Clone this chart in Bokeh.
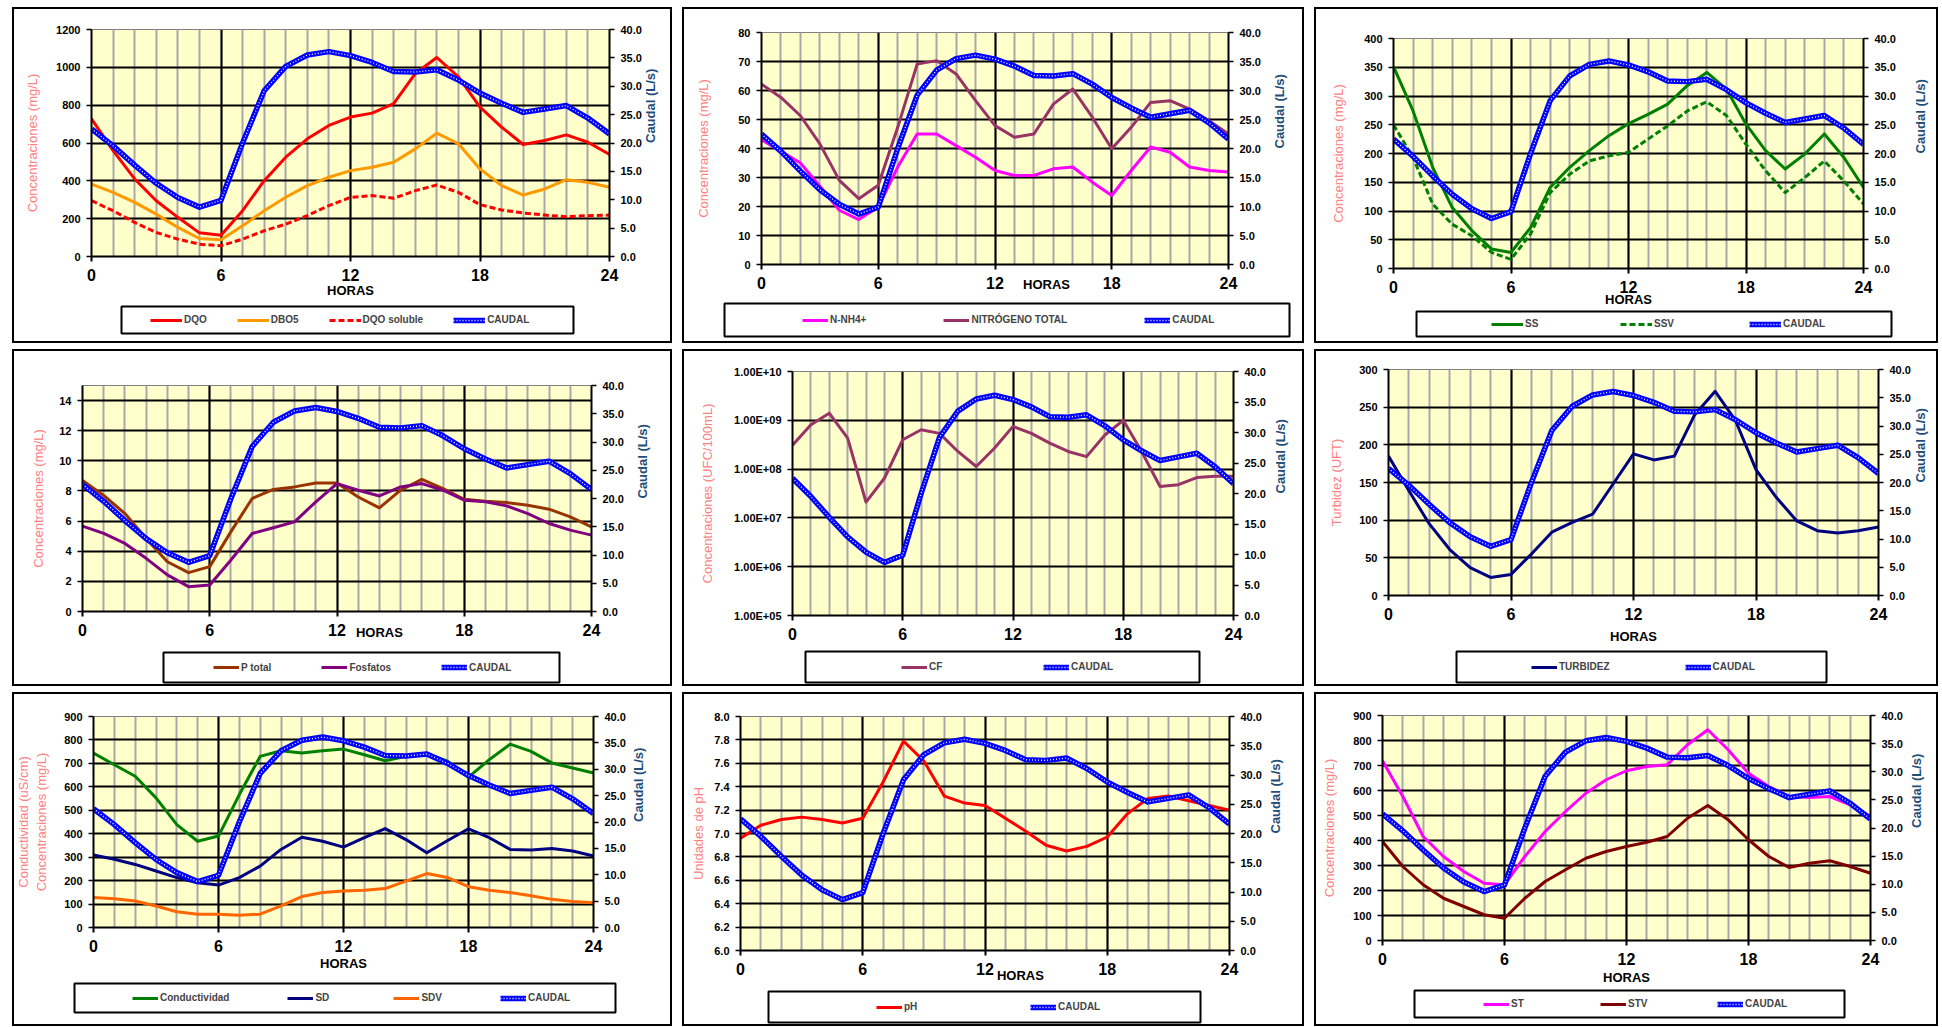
import numpy as np
from bokeh.plotting import figure
from bokeh.models import (Range1d, LinearScale, FixedTicker, PrintfTickFormatter,
                          Legend, LegendItem, LinearAxis, Plot)
from bokeh.layouts import row, column
from bokeh.embed import file_html
from bokeh.resources import INLINE

FONT = "Liberation Sans"

# ---------------- data (hourly readings) ----------------
horas = list(range(25))
x_ticks = [0, 6, 12, 18, 24]

caudal = [22.5, 19.5, 16.1, 12.9, 10.4, 8.7, 9.9, 20.0, 29.2, 33.5, 35.5, 36.1, 35.4,
          34.2, 32.6, 32.5, 32.9, 31.1, 28.8, 27.0, 25.4, 26.0, 26.6, 24.4, 21.6]
caudal_ticks = [0, 5, 10, 15, 20, 25, 30, 35, 40]

dqo = [728, 560, 410, 295, 207, 125, 112, 242, 401, 525, 622, 693, 737,
       758, 808, 967, 1052, 949, 790, 684, 592, 613, 643, 604, 539]
dbo5 = [383, 339, 286, 224, 154, 95, 88, 163, 242, 313, 375, 419, 454,
        472, 498, 569, 652, 596, 463, 375, 325, 357, 406, 392, 366]
dqo_soluble = [295, 242, 180, 127, 92, 65, 57, 92, 136, 171, 216, 269, 313,
               322, 308, 348, 378, 339, 274, 246, 230, 219, 210, 216, 219]

nh4 = [43, 39, 35, 27, 18.7, 15.5, 19.8, 33.6, 45, 45, 41, 37, 32.4,
       30.7, 30.7, 33, 33.6, 28.4, 23.8, 32.4, 40.5, 38.7, 33.6, 32.4, 31.9]
n_total = [62.2, 57.6, 51.3, 41.6, 29, 22.7, 27.3, 47.3, 69.1, 70.3, 65.7, 56.5, 47.9,
           43.9, 45, 55.3, 60.5, 50.8, 39.9, 47.3, 55.9, 56.5, 53.6, 49.6, 45]

ss = [351, 274, 176, 106, 66, 34, 28, 71, 141, 176, 205, 231, 252,
      268, 286, 318, 341, 312, 251, 205, 173, 199, 234, 193, 141]
ssv = [250, 193, 112, 77, 57, 28, 16, 60, 132, 164, 187, 196, 202,
       225, 248, 274, 290, 266, 216, 170, 132, 158, 187, 152, 112]

p_total = [8.7, 7.7, 6.5, 4.85, 3.3, 2.58, 2.98, 5.3, 7.5, 8.1, 8.27, 8.53, 8.53,
           7.6, 6.88, 8.05, 8.77, 8.16, 7.45, 7.32, 7.23, 7.05, 6.79, 6.28, 5.62]
fosfatos = [5.67, 5.18, 4.52, 3.53, 2.43, 1.65, 1.76, 3.42, 5.18, 5.56, 5.95, 7.28, 8.49,
            8.05, 7.67, 8.27, 8.49, 8.05, 7.39, 7.28, 7.01, 6.5, 5.84, 5.4, 5.07]

cf = [3.1e8, 8.1e8, 1.4e9, 4.3e8, 2.1e7, 6.5e7, 4.0e8, 6.4e8, 5.4e8, 2.3e8, 1.13e8, 2.7e8, 7.5e8,
      5.4e8, 3.4e8, 2.3e8, 1.8e8, 5.0e8, 1.0e9, 2.3e8, 4.4e7, 4.8e7, 6.7e7, 7.1e7, 7.1e7]
cf_ticks = [1e5, 1e6, 1e7, 1e8, 1e9, 1e10]
cf_tick_labels = ["1.00E+05", "1.00E+06", "1.00E+07", "1.00E+08", "1.00E+09", "1.00E+10"]

turbidez = [185, 139, 95, 61, 37, 24, 28, 55, 84, 97, 108, 148, 188,
            180, 185, 240, 271, 232, 167, 130, 99, 86, 83, 86, 91]

conductividad = [744, 694, 645, 553, 439, 368, 390, 567, 730, 754, 744, 754, 761,
                 737, 711, 730, 741, 709, 641, 716, 782, 751, 702, 680, 659]
sd = [309, 291, 269, 241, 213, 191, 181, 213, 262, 333, 385, 368, 343,
      383, 422, 375, 319, 371, 421, 383, 333, 331, 337, 326, 305]
sdv = [128, 123, 113, 92, 67, 57, 57, 52, 57, 92, 132, 149, 156,
       159, 166, 198, 230, 213, 174, 159, 149, 135, 120, 111, 106]

ph = [6.96, 7.07, 7.12, 7.14, 7.12, 7.09, 7.13, 7.44, 7.79, 7.62, 7.32, 7.26, 7.24,
      7.13, 7.02, 6.90, 6.85, 6.89, 6.97, 7.17, 7.30, 7.32, 7.28, 7.24, 7.20]
ph_ticks = [6.0, 6.2, 6.4, 6.6, 6.8, 7.0, 7.2, 7.4, 7.6, 7.8, 8.0]

st = [719, 576, 416, 336, 276, 229, 223, 336, 436, 516, 589, 643, 679,
      696, 703, 783, 843, 763, 669, 616, 576, 572, 576, 543, 496]
stv = [396, 296, 223, 169, 136, 103, 89, 169, 236, 283, 329, 356, 376,
       393, 416, 489, 540, 483, 403, 336, 292, 309, 319, 296, 269]

CONC = "Concentraciones (mg/L)"

# layout specs (pixels inside each panel)
panels = [
    dict(size=(660, 336), frame=(79, 597, 22, 249), split=296, ylim=(0, 1200),
         yticks=list(range(0, 1201, 200)),
         series=[("DQO", dqo, "#FF0000", None), ("DBO5", dbo5, "#FF9900", None),
                 ("DQO soluble", dqo_soluble, "#FF0000", "6 3")],
         left=CONC, lstand=13, rstand=6, horas=("axis", -1),
         box=(109, 561, 299, 326), leg_x=138, spacing=30, glyph=32),
    dict(size=(622, 336), frame=(79, 546, 25, 257), split=293, ylim=(0, 80),
         yticks=list(range(0, 81, 10)),
         series=[("N-NH4+", nh4, "#FF00FF", None), ("NITRÓGENO TOTAL", n_total, "#993366", None)],
         left=CONC, lstand=24, rstand=16, horas=("tick", 14.65, -15),
         box=(42, 607, 296, 329), leg_x=120, spacing=77, glyph=26),
    dict(size=(624, 336), frame=(79, 549, 31, 261), split=302, ylim=(0, 400),
         yticks=list(range(0, 401, 50)),
         series=[("SS", ss, "#008000", None), ("SSV", ssv, "#008000", "6 3")],
         left=CONC, lstand=15, rstand=22, horas=("axis", -4),
         box=(102, 577, 304, 329), leg_x=177, spacing=75, glyph=32),
    dict(size=(660, 337), frame=(70, 579, 36, 262), split=299, ylim=(0, 15),
         yticks=list(range(0, 15, 2)),
         series=[("P total", p_total, "#993300", None), ("Fosfatos", fosfatos, "#800080", None)],
         left=CONC, lstand=10, rstand=16, horas=("tick", 14.0, -14),
         box=(151, 547, 303, 333), leg_x=201, spacing=50, glyph=26),
    dict(size=(622, 337), frame=(110, 551, 22, 266), split=299, ylim=(1e5, 1e10),
         yticks=cf_ticks, log=True,
         series=[("CF", cf, "#993366", None)],
         left="Concentraciones (UFC/100mL)", lstand=16, rstand=12, horas=None,
         box=(123, 517, 302, 333), leg_x=219, spacing=94, glyph=26),
    dict(size=(624, 337), frame=(74, 566, 20, 246), split=299, ylim=(0, 300),
         yticks=list(range(0, 301, 50)),
         series=[("TURBIDEZ", turbidez, "#000080", None)],
         left="Turbidez (UFT)", lstand=12, rstand=7, horas=("axis", 6),
         box=(142, 512, 302, 333), leg_x=217, spacing=75, glyph=26),
    dict(size=(660, 334), frame=(79, 581, 24, 235), split=288, ylim=(0, 900),
         yticks=list(range(0, 901, 100)),
         series=[("Conductividad", conductividad, "#008000", None), ("SD", sd, "#000080", None),
                 ("SDV", sdv, "#FF6600", None)],
         left=CONC, left2="Conductividad (uS/cm)", lstand=12, rstand=10, horas=("axis", 1),
         box=(62, 603, 291, 320), leg_x=120, spacing=58, glyph=26),
    dict(size=(622, 334), frame=(58, 547, 24, 258), split=296, ylim=(6, 8),
         yticks=ph_ticks, fmt="%.1f",
         series=[("pH", ph, "#FF0000", None)],
         left="Unidades de pH", lstand=5, rstand=11, horas=("tick", 13.74, -10),
         box=(86, 518, 299, 330), leg_x=194, spacing=106, glyph=26),
    dict(size=(624, 334), frame=(68, 556, 23, 248), split=295, ylim=(0, 900),
         yticks=list(range(0, 901, 100)),
         series=[("ST", st, "#FF00FF", None), ("STV", stv, "#800000", None)],
         left=CONC, lstand=13, rstand=11, horas=("axis", 2),
         box=(100, 530, 298, 325), leg_x=169, spacing=69, glyph=26),
]

HAS_FRAME_ALIGN = "frame_align" in Plot.properties()


def style_text_axis(ax, size):
    ax.major_label_text_font = FONT
    ax.major_label_text_font_size = size
    ax.major_label_text_font_style = "bold"
    ax.major_label_text_color = "black"


def make_panel(cfg):
    W, H = cfg["size"]
    L, R, T, B = cfg["frame"]
    S = cfg["split"]
    log = cfg.get("log", False)
    p = figure(width=W, height=S, title=None, toolbar_location=None, output_backend="svg",
               x_range=Range1d(0, 24), y_range=Range1d(*cfg["ylim"]),
               y_axis_type="log" if log else "linear",
               min_border_left=L, min_border_right=W - R, min_border_top=T, min_border_bottom=S - B,
               background_fill_color="#FFFFCC", border_fill_color=None,
               outline_line_color="#808080", outline_line_width=1)
    if HAS_FRAME_ALIGN:
        p.frame_align = False
    p.extra_y_ranges = {"caudal": Range1d(0, 40)}
    p.extra_y_scales = {"caudal": LinearScale()}

    # grids
    p.xgrid.ticker = FixedTicker(ticks=x_ticks, minor_ticks=horas)
    p.xgrid.grid_line_color = "black"
    p.xgrid.grid_line_width = 2
    p.xgrid.minor_grid_line_color = "#A8A8A8"
    p.xgrid.minor_grid_line_width = 2
    p.ygrid.ticker = FixedTicker(ticks=cfg["yticks"])
    p.ygrid.grid_line_color = "black"
    p.ygrid.grid_line_width = 2

    # x axis
    xa = p.xaxis[0]
    xa.ticker = FixedTicker(ticks=x_ticks)
    xa.axis_line_width = 2
    xa.major_tick_out = 5
    xa.major_tick_in = 0
    xa.major_tick_line_width = 2
    xa.minor_tick_line_color = None
    xa.major_label_standoff = 7
    style_text_axis(xa, "16px")
    hcfg = cfg["horas"]
    if hcfg and hcfg[0] == "axis":
        xa.axis_label = "HORAS"
        xa.axis_label_standoff = hcfg[1]
        xa.axis_label_text_font = FONT
        xa.axis_label_text_font_size = "13px"
        xa.axis_label_text_font_style = "bold"
        xa.axis_label_text_color = "black"
    elif hcfg and hcfg[0] == "tick":
        ha = LinearAxis(ticker=FixedTicker(ticks=[hcfg[1]]),
                        major_label_overrides={hcfg[1]: "HORAS"})
        ha.axis_line_color = None
        ha.major_tick_line_color = None
        ha.minor_tick_line_color = None
        ha.major_tick_out = 0
        ha.major_tick_in = 0
        ha.major_label_standoff = hcfg[2]
        style_text_axis(ha, "13px")
        p.add_layout(ha, "below")

    # left axis
    ya = p.yaxis[0]
    ya.ticker = FixedTicker(ticks=cfg["yticks"])
    if log:
        ya.major_label_overrides = dict(zip(cf_ticks, cf_tick_labels))
    elif "fmt" in cfg:
        ya.formatter = PrintfTickFormatter(format=cfg["fmt"])
    ya.axis_label = cfg["left"]
    ya.axis_label_standoff = cfg["lstand"]
    ya.axis_label_text_font = FONT
    ya.axis_label_text_font_size = "13px"
    ya.axis_label_text_font_style = "normal"
    ya.axis_label_text_color = "#FF8080"

    # right axis (caudal)
    ra = LinearAxis(y_range_name="caudal", ticker=FixedTicker(ticks=caudal_ticks),
                    formatter=PrintfTickFormatter(format="%.1f"))
    ra.axis_label = "Caudal (L/s)"
    ra.axis_label_standoff = cfg["rstand"]
    ra.axis_label_text_font = FONT
    ra.axis_label_text_font_size = "13px"
    ra.axis_label_text_font_style = "bold"
    ra.axis_label_text_color = "#1F4E79"
    if "axis_label_orientation" in ra.properties():
        ra.axis_label_orientation = np.pi / 2
    p.add_layout(ra, "right")
    for ax in (ya, ra):
        ax.axis_line_width = 2
        ax.major_tick_out = 5
        ax.major_tick_in = 0
        ax.major_tick_line_width = 1.5
        ax.minor_tick_line_color = None
        ax.major_label_standoff = 6
        style_text_axis(ax, "11px")

    if "left2" in cfg:
        la2 = LinearAxis(ticker=FixedTicker(ticks=[]))
        la2.axis_line_color = None
        la2.major_tick_line_color = None
        la2.minor_tick_line_color = None
        la2.major_tick_out = 0
        la2.major_label_standoff = 0
        la2.axis_label = cfg["left2"]
        la2.axis_label_standoff = 1
        la2.axis_label_text_font = FONT
        la2.axis_label_text_font_size = "13px"
        la2.axis_label_text_font_style = "normal"
        la2.axis_label_text_color = "#FF8080"
        p.add_layout(la2, "left")

    # series
    for name, vals, color, dash in cfg["series"]:
        p.line(horas, vals, line_color=color, line_width=3,
               line_dash=dash if dash else "solid", line_join="round")
    p.line(horas, caudal, y_range_name="caudal", line_color="#0000FF", line_width=5.5,
           line_join="round")
    p.line(horas, caudal, y_range_name="caudal", line_color="white", line_width=1.3,
           line_dash="1 2")

    # legend strip (its frame is the legend box); proxies use the same data, kept out of view
    bx0, bx1, by0, by1 = cfg["box"]
    lf = figure(width=W, height=H - S, title=None, toolbar_location=None, output_backend="svg",
                x_axis_type=None, y_axis_type=None,
                x_range=Range1d(-60, -50), y_range=Range1d(-60, -50),
                min_border_left=bx0, min_border_right=W - bx1, min_border_top=by0 - S,
                min_border_bottom=H - by1, background_fill_color="white", border_fill_color=None,
                outline_line_color="black", outline_line_width=2)
    if HAS_FRAME_ALIGN:
        lf.frame_align = False
    items = []
    for name, vals, color, dash in cfg["series"]:
        r = lf.line(horas, vals, line_color=color, line_width=3,
                    line_dash=dash if dash else "solid")
        items.append(LegendItem(label=name, renderers=[r]))
    rb = lf.line(horas, caudal, line_color="#0000FF", line_width=5.5)
    rw = lf.line(horas, caudal, line_color="white", line_width=1.3, line_dash="1 2")
    items.append(LegendItem(label="CAUDAL", renderers=[rb, rw]))
    bh = by1 - by0
    lg = Legend(items=items, location=(cfg["leg_x"] - bx0, (bh - 12) / 2), orientation="horizontal",
                spacing=cfg["spacing"], padding=0, margin=0, border_line_color=None,
                background_fill_alpha=0, glyph_width=cfg["glyph"], glyph_height=12,
                label_height=12, label_standoff=2, label_text_font=FONT,
                label_text_font_style="bold", label_text_font_size="10px")
    lf.add_layout(lg)

    return column(p, lf, spacing=0,
                  styles={"outline": "2px solid black", "outline-offset": "-2px"})


figs = [make_panel(c) for c in panels]
layout = column(row(figs[0], figs[1], figs[2], spacing=10),
                row(figs[3], figs[4], figs[5], spacing=10),
                row(figs[6], figs[7], figs[8], spacing=10),
                spacing=6, margin=(7, 0, 0, 12))

open("out.html", "w").write(file_html(layout, INLINE))
